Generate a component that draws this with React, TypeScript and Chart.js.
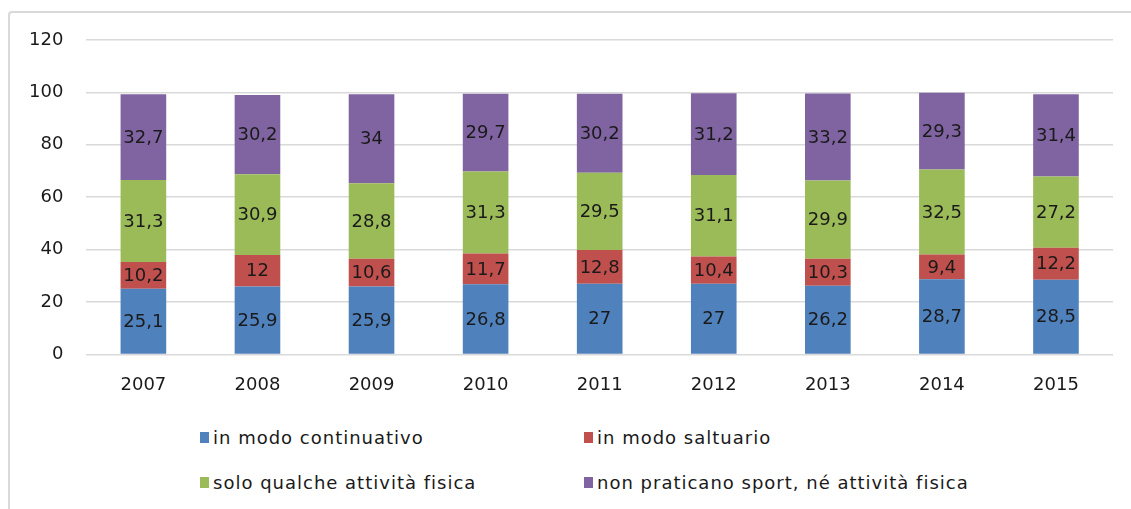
import React, { useEffect, useRef } from "react";
import { Chart, registerables } from "chart.js";

Chart.register(...registerables);

const years = ["2007", "2008", "2009", "2010", "2011", "2012", "2013", "2014", "2015"];
const continuativo = [25.1, 25.9, 25.9, 26.8, 27, 27, 26.2, 28.7, 28.5];
const saltuario = [10.2, 12, 10.6, 11.7, 12.8, 10.4, 10.3, 9.4, 12.2];
const qualche = [31.3, 30.9, 28.8, 31.3, 29.5, 31.1, 29.9, 32.5, 27.2];
const nessuna = [32.7, 30.2, 34, 29.7, 30.2, 31.2, 33.2, 29.3, 31.4];
const seriesNames = [
  "in modo continuativo",
  "in modo saltuario",
  "solo qualche attività fisica",
  "non praticano sport, né attività fisica",
];
const seriesColors = ["#4F81BD", "#C0504D", "#9BBB59", "#8064A2"];

const FONT = "'DejaVu Sans', sans-serif";

const labelPlugin = {
  id: "segLabels",
  afterDatasetsDraw(chart: any) {
    const ctx = chart.ctx;
    ctx.save();
    ctx.font = `18px ${FONT}`;
    ctx.fillStyle = "#1a1a1a";
    ctx.textAlign = "center";
    ctx.textBaseline = "middle";
    chart.data.datasets.forEach((ds: any, i: number) => {
      const meta = chart.getDatasetMeta(i);
      meta.data.forEach((el: any, j: number) => {
        const v = ds.data[j];
        const y = (el.y + el.base) / 2;
        ctx.fillText(String(v).replace(".", ","), el.x, y + 1);
      });
    });
    ctx.restore();
  },
};

export default function App() {
  const ref = useRef<HTMLCanvasElement>(null);
  useEffect(() => {
    const all = [continuativo, saltuario, qualche, nessuna];
    const chart = new Chart(ref.current!, {
      type: "bar",
      data: {
        labels: years,
        datasets: all.map((d, i) => ({
          label: seriesNames[i],
          data: d,
          backgroundColor: seriesColors[i],
          borderWidth: 0,
          barPercentage: 0.4,
          categoryPercentage: 1,
        })),
      },
      options: {
        animation: false,
        responsive: false,
        maintainAspectRatio: false,
        layout: { padding: { left: 6, right: 18, top: 40, bottom: 7 } },
        plugins: { legend: { display: false }, tooltip: { enabled: false }, title: { display: false } },
        scales: {
          x: {
            stacked: true,
            grid: { display: false, drawTicks: false },
            border: { display: false },
            ticks: { font: { family: FONT, size: 18 }, color: "#1a1a1a", padding: 20 },
          },
          y: {
            stacked: true,
            min: 0,
            max: 120,
            grid: { color: "#d9d9d9", lineWidth: 1.5, drawTicks: false },
            border: { display: false },
            ticks: { stepSize: 20, font: { family: FONT, size: 18 }, color: "#1a1a1a", padding: 23 },
          },
        },
      },
      plugins: [labelPlugin],
    });
    return () => chart.destroy();
  }, []);

  const legendPos = [
    { x: 200, y: 437 },
    { x: 584, y: 437 },
    { x: 200, y: 482 },
    { x: 584, y: 482 },
  ];

  return (
    <div style={{ position: "fixed", left: 0, top: 0, width: 1131, height: 509, background: "#fff", overflow: "hidden" }}>
      <div
        style={{
          position: "absolute",
          left: 8,
          top: 11,
          width: 1140,
          height: 520,
          borderTop: "2px solid #d9d9d9",
          borderLeft: "2px solid #d9d9d9",
          borderTopLeftRadius: 4,
        }}
      />
      <canvas ref={ref} width={1131} height={423} style={{ position: "absolute", left: 0, top: 0, width: 1131, height: 423 }} />
      {seriesNames.map((n, i) => (
        <div
          key={n}
          style={{
            position: "absolute",
            left: legendPos[i].x,
            top: legendPos[i].y - 12,
            height: 24,
            display: "flex",
            alignItems: "center",
            fontFamily: FONT,
            fontSize: 18,
            letterSpacing: 1,
            color: "#1a1a1a",
            whiteSpace: "nowrap",
          }}
        >
          <span style={{ display: "inline-block", width: 9, height: 11, background: seriesColors[i], marginRight: 4 }} />
          <span>{n}</span>
        </div>
      ))}
    </div>
  );
}
